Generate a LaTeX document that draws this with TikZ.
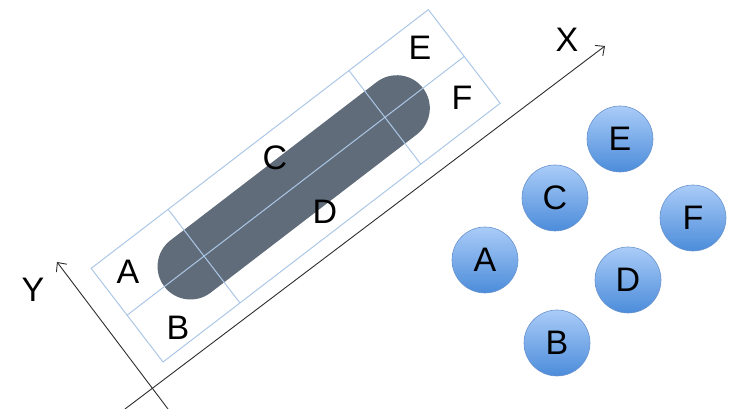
\documentclass[tikz,border=0pt]{standalone}
\usepackage{fontspec}
\setmainfont{Liberation Sans}
\usetikzlibrary{arrows.meta, positioning}
\definecolor{barslate}{RGB}{96, 108, 122}
\definecolor{gridblue}{RGB}{172, 199, 230}
\definecolor{balltop}{RGB}{170, 204, 248}
\definecolor{ballbottom}{RGB}{76, 140, 218}
\definecolor{ballrim}{RGB}{105, 148, 205}
\definecolor{axisgray}{RGB}{45, 45, 45}
\tikzset{
  axisarrow/.style={-{Straight Barb[length=7pt, width=13pt]}, axisgray, line width=0.9pt},
  gridline/.style={gridblue, line width=1pt},
  letter/.style={font=\fontsize{34}{40}\selectfont, inner sep=0pt},
  ball/.style={circle, minimum size=66pt, inner sep=0pt, draw=ballrim, line width=0.6pt,
    top color=balltop, bottom color=ballbottom, font=\fontsize{34}{40}\selectfont}
}

\begin{document}
\begin{tikzpicture}[x=1pt, y=1pt]
    \useasboundingbox (0,0) rectangle (740,409);

    % rotated grid with the bar
    \begin{scope}[shift={(163,47)}, rotate=37.5]
        \fill[barslate, rounded corners=33pt] (47,26) rectangle (373,92);
        \draw[gridline] (0,0) rectangle (425,118);
        \draw[gridline] (0,59) -- (425,59);
        \draw[gridline] (97,0) -- (97,118);
        \draw[gridline] (325,0) -- (325,118);
    \end{scope}

    \node (lblA) [letter] at (128,137) {A};
    \node (lblB) [letter] at (178,81) {B};
    \node (lblC) [letter] at (275,251) {C};
    \node (lblD) [letter] at (325,197) {D};
    \node (lblE) [letter] at (420,361) {E};
    \node (lblF) [letter] at (462,311) {F};

    % axes
    \coordinate (xstart) at (125,0);
    \coordinate (xend) at (605,363);
    \coordinate (ystart) at (168,0);
    \coordinate (yend) at (57,147);
    \draw[axisarrow] (xstart) -- (xend);
    \draw[axisarrow] (ystart) -- (yend);
    \node (xlabel) [letter] at (567,369) {X};
    \node (ylabel) [letter] at (33,119) {Y};

    % the points
    \node (ballA) [ball] at (485,149) {A};
    \node (ballB) [ball] at (557,66) {B};
    \node (ballC) [ball] at (555,211) {C};
    \node (ballD) [ball] at (628,129) {D};
    \node (ballE) [ball] at (620,270) {E};
    \node (ballF) [ball] at (693,191) {F};
\end{tikzpicture}
\end{document}
